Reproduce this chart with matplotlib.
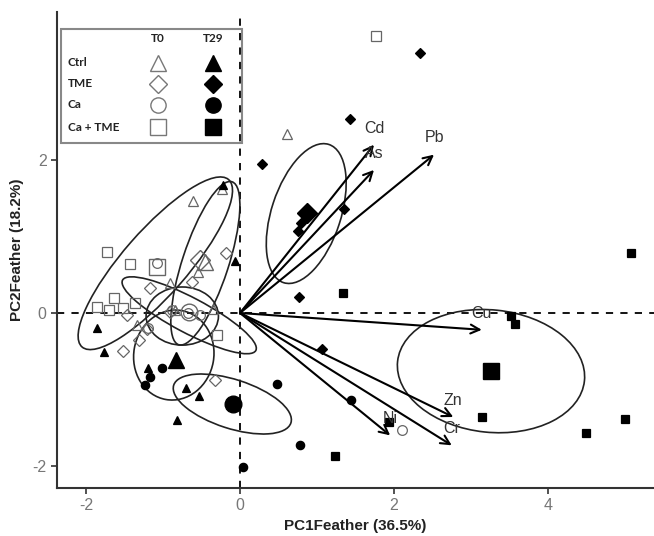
import numpy as np
import matplotlib
matplotlib.use("Agg")
import matplotlib.pyplot as plt
from matplotlib.patches import Ellipse, Rectangle

plt.rcParams['font.family'] = ['Liberation Sans', 'DejaVu Sans']
plt.rcParams['axes.unicode_minus'] = False

# sample scores, one pair of lists per group
ctrl_t0_x = [-0.23, -0.61, -0.55, -0.35, -0.84, 0.61, -0.91, -1.34]
ctrl_t0_y = [1.62, 1.46, 0.54, 0.05, 0.04, 2.34, 0.39, -0.16]
ctrl_t29_x = [-1.86, -1.77, -1.19, -0.70, -0.53, -0.82, -0.06, -0.22]
ctrl_t29_y = [-0.20, -0.51, -0.72, -0.98, -1.08, -1.40, 0.68, 1.67]
tme_t0_x = [-0.18, -0.62, -1.17, -1.47, -1.52, -1.31, -1.21, -0.32, -0.91]
tme_t0_y = [0.78, 0.41, 0.33, -0.03, -0.50, -0.35, -0.21, -0.88, 0.01]
tme_t29_x = [2.34, 1.43, 0.29, 0.79, 0.75, 1.35, 0.77, 1.06]
tme_t29_y = [3.40, 2.54, 1.95, 1.18, 1.07, 1.36, 0.21, -0.47]
ca_t0_x = [-1.08, -0.68, -0.52, -0.88, -1.19, 2.10]
ca_t0_y = [0.65, 0.00, -0.03, 0.04, -0.20, -1.53]
ca_t29_x = [-1.01, -1.17, -1.23, 0.48, 0.04, 0.78, 1.44]
ca_t29_y = [-0.72, -0.84, -0.94, -0.93, -2.01, -1.73, -1.14]
catme_t0_x = [-1.73, -1.43, -1.64, -1.86, -1.70, -1.52, -1.36, -0.30, 1.77]
catme_t0_y = [0.80, 0.64, 0.20, 0.08, 0.04, 0.07, 0.13, -0.29, 3.62]
catme_t29_x = [1.34, 5.08, 3.52, 3.57, 3.14, 4.49, 5.00, 1.23, 1.94]
catme_t29_y = [0.26, 0.78, -0.04, -0.14, -1.36, -1.57, -1.39, -1.87, -1.42]

# group means (large symbols)
cent_x = [-0.45, -0.83, -0.52, 0.87, -0.66, -0.09, -1.08, 3.26]
cent_y = [0.67, -0.61, 0.69, 1.31, 0.01, -1.19, 0.60, -0.76]

# ellipses: centre, semi axes, angle
ell_cx = [-0.45, -0.86, -0.66, 0.86, -0.75, -0.10, -1.10, 3.26]
ell_cy = [0.65, -0.55, -0.03, 1.30, -0.04, -1.19, 0.65, -0.76]
ell_a = [1.12, 0.59, 0.98, 0.95, 0.47, 0.80, 1.45, 1.22]
ell_b = [0.30, 0.52, 0.23, 0.45, 0.38, 0.32, 0.42, 0.80]
ell_ang = [72, 80, -28, 72, 0, -18, 49, -6]

# variable loadings
var_names = ['Cd', 'As', 'Pb', 'Cu', 'Zn', 'Cr', 'Ni']
load_x = [1.74, 1.74, 2.52, 3.14, 2.77, 2.75, 1.95]
load_y = [2.20, 1.87, 2.07, -0.22, -1.36, -1.73, -1.60]

groups = ['Ctrl', 'TME', 'Ca', 'Ca + TME']
markers = ['^', 'D', 'o', 's']
msize = [6, 5, 6, 6]

series = [
    (ctrl_t0_x, ctrl_t0_y), (ctrl_t29_x, ctrl_t29_y),
    (tme_t0_x, tme_t0_y), (tme_t29_x, tme_t29_y),
    (ca_t0_x, ca_t0_y), (ca_t29_x, ca_t29_y),
    (catme_t0_x, catme_t0_y), (catme_t29_x, catme_t29_y),
]

fig = plt.figure(figsize=(6.54, 5.36), dpi=100)
ax = fig.add_axes([57 / 654, 48 / 536, 597 / 654, 476 / 536])

ax.axhline(0, color='black', ls=(0, (4, 4)), lw=1.3, zorder=1)
ax.axvline(0, color='black', ls=(0, (4, 4)), lw=1.3, zorder=1)

open_col = '#666666'
for i, (xs, ys) in enumerate(series):
    m = markers[i // 2]
    filled = i % 2 == 1
    fc = 'black' if filled else 'none'
    ec = 'black' if filled else open_col
    ax.plot(xs, ys, ls='none', marker=m, ms=msize[i // 2] if filled else msize[i // 2] + 1,
            mfc=fc, mec=ec, mew=0.9, zorder=3)
    ax.plot(cent_x[i], cent_y[i], ls='none', marker=m, ms=12 if m != 'D' else 10,
            mfc=fc, mec=ec, mew=1.0, zorder=3)
    ax.add_patch(Ellipse((ell_cx[i], ell_cy[i]), 2 * ell_a[i], 2 * ell_b[i],
                         angle=ell_ang[i], fill=False, ec='#222222', lw=1.2, zorder=2))

for name, lx, ly in zip(var_names, load_x, load_y):
    ax.annotate('', xy=(lx, ly), xytext=(0, 0),
                arrowprops=dict(arrowstyle='->', lw=1.5, color='black',
                                mutation_scale=16, shrinkA=0, shrinkB=0), zorder=4)
    ax.annotate(name, (lx, ly), xytext=(0, 12), textcoords='offset points',
                ha='center', va='center', fontsize=11.5, color='#333333', zorder=5)

ax.set_xlim(-2.377, 5.377)
ax.set_ylim(-2.288, 3.935)
ax.set_xticks([-2, 0, 2, 4])
ax.set_yticks([-2, 0, 2])
ax.spines['top'].set_visible(False)
ax.spines['right'].set_visible(False)
for s in ['left', 'bottom']:
    ax.spines[s].set_linewidth(1.5)
    ax.spines[s].set_color('#333333')
ax.tick_params(length=4, width=1.2, color='#333333', labelsize=11.5, labelcolor='#777777')
ax.set_xlabel('PC1Feather (36.5%)', fontsize=11, fontweight='bold', color='#222222', labelpad=4)
ax.set_ylabel('PC2Feather (18.2%)', fontsize=11, fontweight='bold', color='#222222', labelpad=6)

# legend table drawn by hand
ax.add_patch(Rectangle((0.007, 0.725), 0.303, 0.239, transform=ax.transAxes,
                       fill=False, ec='#888888', lw=1.5, zorder=6))
lfont = dict(family=['Lato', 'DejaVu Sans'], fontweight='bold', fontsize=8.5, color='#222222')
ax.text(0.169, 0.945, 'T0', transform=ax.transAxes, ha='center', va='center', **lfont)
ax.text(0.261, 0.945, 'T29', transform=ax.transAxes, ha='center', va='center', **lfont)
row_y = [0.893, 0.849, 0.805, 0.758]
for g, m, ry in zip(groups, markers, row_y):
    ax.text(0.018, ry, g, transform=ax.transAxes, ha='left', va='center', **lfont)
    ms = 11 if m != 'D' else 9
    ax.plot([0.169], [ry], transform=ax.transAxes, marker=m, ms=ms, mfc='none',
            mec='#777777', mew=1.0, ls='none', zorder=7)
    ax.plot([0.261], [ry], transform=ax.transAxes, marker=m, ms=ms, mfc='black',
            mec='black', ls='none', zorder=7)

fig.savefig('out.png', dpi=100)
